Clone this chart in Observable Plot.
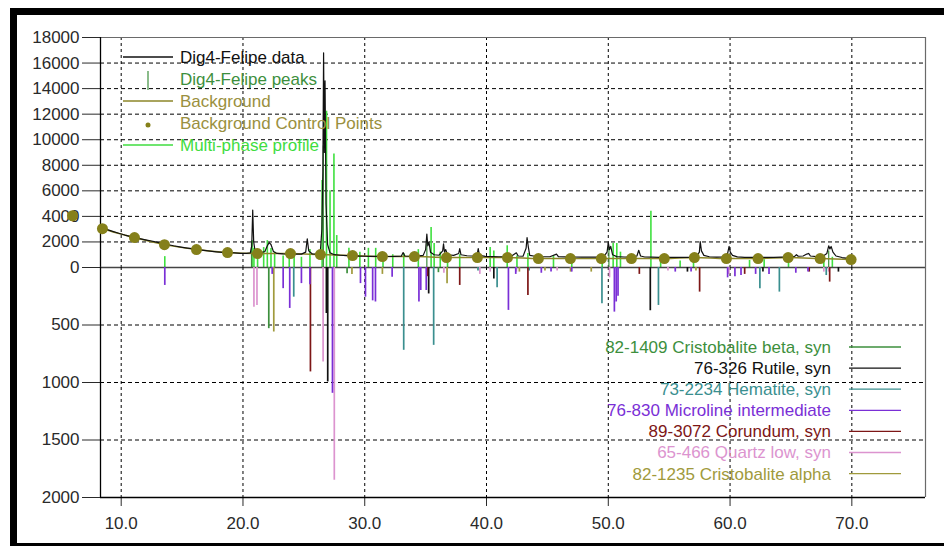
<!DOCTYPE html>
<html>
<head>
<meta charset="utf-8">
<script src="https://cdn.jsdelivr.net/npm/d3@7"></script>
<script src="https://cdn.jsdelivr.net/npm/@observablehq/plot@0.6"></script>
<style>
  html, body { margin: 0; padding: 0; background: #fff; }
  body { width: 944px; height: 546px; overflow: hidden; position: relative; font-family: "Liberation Sans", Arial, sans-serif; }
  #frame { position: absolute; left: 10px; top: 8px; width: 1000px; height: 528px; border: 7px solid #000; }
  #topChart { position: absolute; left: 0; top: 0; }
  #botChart { position: absolute; left: 0; top: 260px; }
</style>
</head>
<body>
<div id="frame"></div>
<div id="topChart"></div>
<div id="botChart"></div>
<script>
// ---------------- data ----------------
const xDomain = [8.3, 76.05];
const xTicks = [10, 20, 30, 40, 50, 60, 70];
const topYTicks = [0, 2000, 4000, 6000, 8000, 10000, 12000, 14000, 16000, 18000];
const topGrid = [2000, 4000, 6000, 8000, 10000, 12000, 14000, 16000];
const botYTicks = [500, 1000, 1500, 2000];
const botGrid = [500, 1000, 1500];

// measured pattern (Dig4-Felipe data)
const dataX = [8.3,8.8,9.3,9.8,10.3,10.8,11.3,11.8,12.3,12.8,13.3,13.8,14.3,14.8,15.3,15.8,16.3,16.8,17.3,17.8,18.3,18.8,19.3,19.8,20.3,20.6,20.72,20.8,20.88,21.0,21.4,21.8,22.0,22.15,22.3,22.5,22.8,23.3,23.8,24.3,24.8,25.15,25.28,25.4,25.7,26.1,26.35,26.48,26.56,26.62,26.68,26.74,26.82,26.95,27.15,27.5,28.0,28.5,29.0,29.5,30.0,30.5,31.0,31.5,32.0,32.5,33.0,33.15,33.3,33.8,34.3,34.8,35.0,35.1,35.18,35.27,35.4,35.7,36.1,36.4,36.47,36.55,36.65,36.8,37.3,37.72,37.8,37.9,38.4,38.9,39.25,39.32,39.42,39.9,40.5,41.0,41.5,42.0,42.45,42.6,43.0,43.25,43.33,43.42,43.55,44.0,44.6,45.2,45.75,45.9,46.5,47.2,47.8,48.4,49.0,49.6,49.9,50.0,50.1,50.2,50.35,50.7,51.3,51.9,52.35,52.5,52.65,53.0,53.6,54.2,54.8,55.4,56.0,56.6,57.2,57.48,57.55,57.65,57.85,58.3,58.9,59.5,59.8,59.92,60.02,60.2,60.6,61.2,61.8,62.4,63.0,63.6,64.2,64.8,65.3,65.45,65.6,66.0,66.3,66.45,66.6,67.1,67.6,67.95,68.1,68.2,68.3,68.45,68.7,69.2,69.7,70.0];
const dataY = [3150,2980,2830,2680,2540,2420,2300,2200,2110,2000,1900,1800,1700,1620,1540,1470,1400,1340,1280,1230,1190,1160,1140,1110,1100,1150,1700,4500,2000,1250,1150,1250,1700,1950,1800,1250,1100,1060,1050,1040,1050,1200,2250,1300,1060,1050,1200,3000,7500,16800,9000,14600,5000,1800,1150,1000,960,930,910,890,880,870,865,860,860,865,880,1170,900,880,890,950,1400,2620,1700,2000,1200,1000,960,1300,1850,1200,1400,1000,950,1100,1480,1000,920,900,1100,1480,950,870,850,840,840,860,1150,900,880,1500,2340,1700,950,880,850,840,1050,850,830,820,815,810,805,830,1200,1950,1400,1650,1000,850,820,810,900,1350,900,820,805,800,795,790,790,795,820,1200,2030,1300,950,840,810,830,1100,1650,1200,950,830,800,790,785,790,800,810,820,870,1000,880,900,1050,1100,900,850,870,1100,1700,1450,1650,1200,900,780,720,680];

// background control points
const bgX = [6.0,8.46,11.09,13.55,16.18,18.73,21.19,23.9,26.36,29.0,31.45,34.08,36.71,39.25,41.72,44.26,46.89,49.43,51.9,54.6,57.07,59.7,62.3,64.77,67.4,69.94];
const bgY = [4050,3040,2340,1790,1400,1170,1090,1090,1010,935,857,857,780,780,780,700,700,700,700,700,780,700,700,780,700,620];

// multi-phase profile spikes
const profX = [13.58,20.75,20.9,21.2,21.7,22.0,22.3,22.6,23.3,23.8,24.2,24.8,25.5,26.5,26.86,27.15,27.47,27.7,28.7,29.6,30.3,30.9,31.5,32.3,33.2,34.4,35.45,35.7,36.2,36.8,37.8,40.3,40.6,41.7,42.5,43.4,45.5,47.0,49.5,50.4,50.7,51.0,53.5,54.3,55.9,57.0,61.6,62.8,64.8,67.7,68.4];
const profY = [850,2100,1500,1400,1560,2100,1480,1200,900,1000,1100,800,1400,6800,12230,6000,8880,2500,1500,1200,1500,1500,900,1000,1100,1400,3140,1870,1200,1100,1000,1560,1300,1700,900,1100,900,700,900,1900,1870,1200,4400,900,500,700,550,600,700,900,800];

// Dig4-Felipe peaks (sticks)
const peakX = [20.7, 26.6, 35.1, 50.05, 68.1];
const peakY = [2000, 9500, 2000, 1600, 1300];

// reference phases (drawn downward)
const phaseNames = ["82-1409 Cristobalite beta, syn","76-326 Rutile, syn","73-2234 Hematite, syn","76-830 Microline intermediate","89-3072 Corundum, syn","65-466 Quartz low, syn","82-1235 Cristobalite alpha"];
const phaseColors = ["#3d8f3d","#111111","#3a8f8f","#7a2fd6","#7d1616","#dc94cf","#a09a3c"];
const cristoBetaX = [22.12, 28.55, 36.05];
const cristoBetaH = [532, 55, 45];
const rutileX = [26.85, 26.96, 35.25, 40.6, 53.45, 56.5, 62.7, 68.9];
const rutileH = [400, 995, 230, 100, 376, 40, 40, 40];
const hematiteX = [24.17, 33.2, 35.66, 39.3, 40.87, 43.5, 49.48, 54.12, 62.45, 64.05, 67.9];
const hematiteH = [258, 720, 677, 30, 176, 30, 315, 330, 185, 214, 70];
const microX = [13.58, 22.4, 23.3, 23.84, 24.8, 25.5, 27.35, 29.65, 30.06, 30.65, 30.88, 32.25, 34.45, 34.6, 35.05, 41.8, 42.4, 44.5, 45.3, 47.0, 50.5, 50.65, 50.8, 55.5, 56.8, 59.8, 60.4, 60.9, 62.1, 63.2, 65.4, 66.4];
const microH = [156, 60, 184, 356, 140, 150, 1094, 140, 258, 290, 300, 84, 300, 200, 200, 373, 60, 50, 40, 40, 388, 300, 250, 40, 40, 90, 80, 70, 60, 60, 50, 40];
const corundumX = [25.54, 35.15, 37.8, 43.4, 52.55, 57.5, 61.2, 66.5, 68.18];
const corundumH = [908, 80, 156, 243, 60, 214, 60, 40, 127];
const quartzX = [20.9, 21.15, 26.58, 27.5, 36.5, 39.45, 40.3, 42.45, 45.8, 50.1, 54.9, 59.9, 67.7, 68.1];
const quartzH = [345, 330, 822, 1850, 50, 60, 40, 40, 30, 90, 30, 60, 40, 40];
const cristoAlphaX = [22.53, 28.95, 31.45, 36.76, 42.7, 44.8, 46.9, 48.6, 57.2];
const cristoAlphaH = [561, 60, 60, 142, 40, 30, 40, 40, 30];

const topLegend = ["Dig4-Felipe data", "Dig4-Felipe peaks", "Background", "Background Control Points", "Multi-phase profile"];
const topLegendColors = ["#111111", "#3d8f3d", "#9a9040", "#9a9040", "#3fdc3f"];

// ---------------- build tables ----------------
const dataRows = dataX.map((x, i) => ({x, y: dataY[i]}));
const bgRows = bgX.map((x, i) => ({x, y: bgY[i]}));
const profRows = profX.map((x, i) => ({x, y: profY[i]}));
const peakRows = peakX.map((x, i) => ({x, y: peakY[i]}));
const phaseSets = [[cristoBetaX, cristoBetaH],[rutileX, rutileH],[hematiteX, hematiteH],[microX, microH],[corundumX, corundumH],[quartzX, quartzH],[cristoAlphaX, cristoAlphaH]];
const drawOrder = [5, 0, 6, 2, 1, 4, 3];
const stickRows = [];
for (const p of drawOrder) {
  const [xs, hs] = phaseSets[p];
  xs.forEach((x, i) => stickRows.push({x, h: hs[i], phase: phaseNames[p], color: phaseColors[p]}));
}

const font = "'Liberation Sans', Arial, sans-serif";
const W = 944;

// ---------------- top panel ----------------
const topPlot = Plot.plot({
  width: W, height: 268,
  marginLeft: 100, marginRight: 19, marginTop: 37, marginBottom: 1,
  style: {fontFamily: font, fontSize: "17px", color: "#2a2a2a", background: "transparent", overflow: "visible"},
  x: {domain: xDomain, axis: null},
  y: {domain: [0, 18000], ticks: topYTicks, tickSize: 18, tickPadding: 3, tickFormat: d => String(d), label: null},
  marks: [
    Plot.ruleY(topGrid, {stroke: "#000", strokeDasharray: "4,3", strokeWidth: 1}),
    Plot.ruleX(xTicks, {stroke: "#000", strokeDasharray: "3,3", strokeWidth: 1}),
    Plot.ruleY([18000], {stroke: "#6a6a6a", strokeWidth: 1.2}),
    Plot.ruleX([xDomain[1]], {stroke: "#6a6a6a", strokeWidth: 1.2}),
    Plot.ruleX([xDomain[0]], {stroke: "#000", strokeWidth: 1.3}),
    Plot.ruleX(profRows, {x: "x", y1: 0, y2: "y", stroke: "#3fe03f", strokeWidth: 1.6}),
    Plot.ruleX(peakRows, {x: "x", y1: 0, y2: "y", stroke: "#3d8f3d", strokeWidth: 1.2}),
    Plot.line(bgRows, {x: "x", y: "y", stroke: "#8c8628", strokeWidth: 1.5, curve: "monotone-x", clip: true}),
    Plot.line(dataRows, {x: "x", y: "y", stroke: "#111", strokeWidth: 1.2}),
    Plot.dot(bgRows, {x: "x", y: "y", r: 5.5, fill: "#85801a", stroke: "none"}),
    Plot.ruleY([0], {stroke: "#444", strokeWidth: 1.3})
  ]
});
document.getElementById("topChart").appendChild(topPlot);

// top legend
{
  const svg = d3.select(topPlot);
  const g = svg.append("g").attr("font-family", font).attr("font-size", 17).attr("text-anchor", "start");
  topLegend.forEach((label, i) => {
    const y = 57 + i * 22;
    const c = topLegendColors[i];
    if (i === 1) {
      g.append("line").attr("x1", 148).attr("x2", 148).attr("y1", y - 8).attr("y2", y + 11).attr("stroke", c).attr("stroke-width", 1.2);
    } else if (i === 3) {
      g.append("circle").attr("cx", 148).attr("cy", y + 2).attr("r", 2.5).attr("fill", "#85801a");
    } else {
      g.append("line").attr("x1", 123).attr("x2", 173).attr("y1", y).attr("y2", y).attr("stroke", i === 2 ? "#8c8628" : c).attr("stroke-width", 1.3);
    }
    g.append("text").attr("x", 180).attr("y", y).attr("dy", "0.35em").attr("text-anchor", "start").attr("fill", c).text(label);
  });
}

// ---------------- bottom panel ----------------
const botPlot = Plot.plot({
  width: W, height: 286,
  marginLeft: 100, marginRight: 19, marginTop: 7, marginBottom: 49,
  style: {fontFamily: font, fontSize: "17px", color: "#2a2a2a", background: "transparent", overflow: "visible"},
  x: {domain: xDomain, ticks: xTicks, tickSize: 9, tickPadding: 10, tickFormat: d => d.toFixed(1), label: null},
  y: {domain: [0, 2000], reverse: true, ticks: botYTicks, tickSize: 18, tickPadding: 3, tickFormat: d => String(d), label: null},
  marks: [
    Plot.ruleY(botGrid, {stroke: "#000", strokeDasharray: "4,3", strokeWidth: 1}),
    Plot.ruleX(xTicks, {stroke: "#000", strokeDasharray: "3,3", strokeWidth: 1}),
    Plot.ruleX([xDomain[1]], {stroke: "#6a6a6a", strokeWidth: 1.2}),
    Plot.ruleX([xDomain[0]], {stroke: "#000", strokeWidth: 1.3}),
    Plot.ruleY([2000], {stroke: "#000", strokeWidth: 1.3}),
    Plot.ruleX(stickRows, {x: "x", y1: 0, y2: "h", stroke: "color", strokeWidth: 1.7})
  ]
});
document.getElementById("botChart").appendChild(botPlot);

// bottom legend
{
  const svg = d3.select(botPlot);
  const g = svg.append("g").attr("font-family", font).attr("font-size", 17);
  phaseNames.forEach((label, i) => {
    const y = 347 - 260 + i * 21.1;
    const c = phaseColors[i];
    g.append("text").attr("x", 831).attr("y", y).attr("dy", "0.35em").attr("text-anchor", "end").attr("fill", c).text(label);
    g.append("line").attr("x1", 849).attr("x2", 901).attr("y1", y).attr("y2", y).attr("stroke", c).attr("stroke-width", 1.3);
  });
}
</script>
</body>
</html>
